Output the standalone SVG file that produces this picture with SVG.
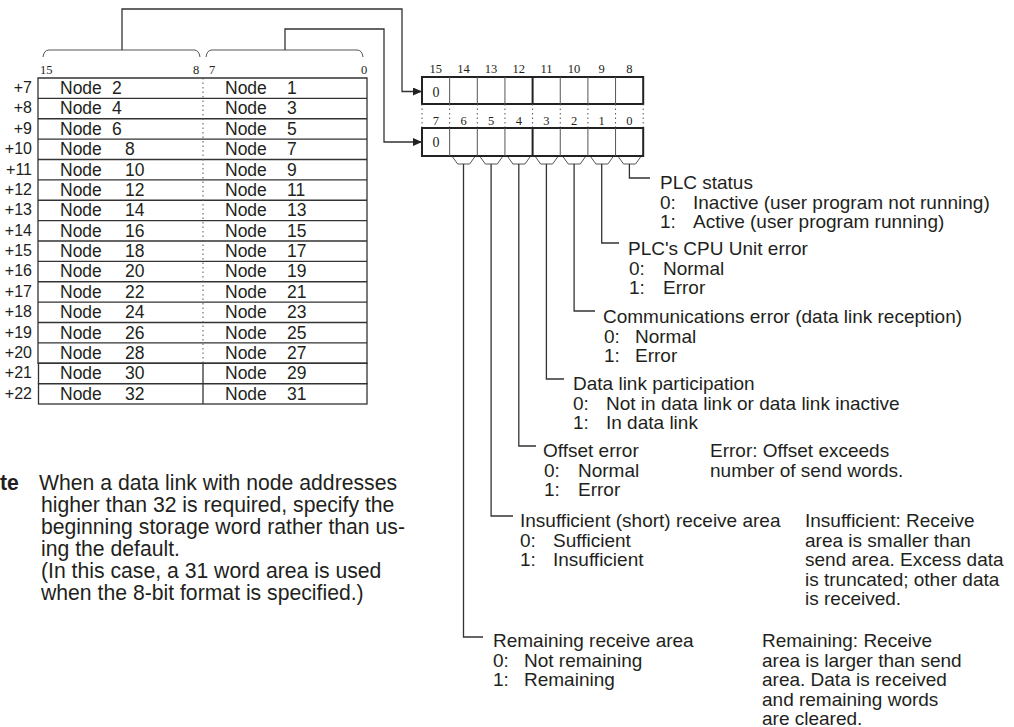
<svg xmlns="http://www.w3.org/2000/svg" width="1014" height="727" viewBox="0 0 1014 727">
<style>
  .t{font-family:"Liberation Sans",Arial,sans-serif;fill:#231f20}
  .tb{font-size:17.5px}
  .lab{font-size:16px;text-anchor:end}
  .r{font-size:19px}
  .note{font-size:21.2px}
  .num{font-family:"Liberation Serif","Times New Roman",serif;font-size:12.5px;fill:#231f20}
  .nm{text-anchor:middle}
  .ln{fill:none;stroke:#333;stroke-width:1.3}
  .thin{fill:none;stroke:#555;stroke-width:1}
  .thick{fill:none;stroke:#222;stroke-width:2}
  .dot{fill:none;stroke:#555;stroke-width:1;stroke-dasharray:1.5 3}
</style>
<defs>
  <marker id="ah" markerUnits="userSpaceOnUse" markerWidth="9" markerHeight="8" refX="9" refY="4" orient="auto">
    <path d="M0,0 L9,4 L0,8 z" fill="#222"/>
  </marker>
</defs>
<rect width="1014" height="727" fill="#fff"/>

<g id="table">
  <path class="ln" d="M38,78 H367 V363.25 H38 Z"/>
  <path class="ln" d="M38,98.4 H367 M38,118.75 H367 M38,139.1 H367 M38,159.5 H367 M38,179.9 H367 M38,200.25 H367 M38,220.6 H367 M38,241 H367 M38,261.4 H367 M38,281.75 H367 M38,302.1 H367 M38,322.5 H367 M38,342.9 H367"/>
  <path class="dot" d="M203,78 V363.25"/>
  <rect class="ln" x="38.5" y="363.25" width="328.5" height="20.4"/>
  <rect class="ln" x="38.5" y="383.65" width="328.5" height="20.35"/>
  <path class="ln" d="M203,363.25 V404"/>
  <g class="t lab">
    <text x="32" y="93">+7</text>
    <text x="32" y="113.4">+8</text>
    <text x="32" y="133.8">+9</text>
    <text x="32" y="154.1">+10</text>
    <text x="32" y="174.5">+11</text>
    <text x="32" y="194.9">+12</text>
    <text x="32" y="215.3">+13</text>
    <text x="32" y="235.6">+14</text>
    <text x="32" y="256">+15</text>
    <text x="32" y="276.4">+16</text>
    <text x="32" y="296.8">+17</text>
    <text x="32" y="317.1">+18</text>
    <text x="32" y="337.5">+19</text>
    <text x="32" y="357.9">+20</text>
    <text x="32" y="378.3">+21</text>
    <text x="32" y="398.6">+22</text>
  </g>
  <g class="t tb">
    <text x="60" y="94">Node<tspan x="112">2</tspan></text>
    <text x="60" y="114.4">Node<tspan x="112">4</tspan></text>
    <text x="60" y="134.8">Node<tspan x="112">6</tspan></text>
    <text x="60" y="155.1">Node<tspan x="125">8</tspan></text>
    <text x="60" y="175.5">Node<tspan x="125">10</tspan></text>
    <text x="60" y="195.9">Node<tspan x="125">12</tspan></text>
    <text x="60" y="216.3">Node<tspan x="125">14</tspan></text>
    <text x="60" y="236.6">Node<tspan x="125">16</tspan></text>
    <text x="60" y="257">Node<tspan x="125">18</tspan></text>
    <text x="60" y="277.4">Node<tspan x="125">20</tspan></text>
    <text x="60" y="297.8">Node<tspan x="125">22</tspan></text>
    <text x="60" y="318.1">Node<tspan x="125">24</tspan></text>
    <text x="60" y="338.5">Node<tspan x="125">26</tspan></text>
    <text x="60" y="358.9">Node<tspan x="125">28</tspan></text>
    <text x="60" y="379.3">Node<tspan x="125">30</tspan></text>
    <text x="60" y="399.6">Node<tspan x="125">32</tspan></text>
    <text x="225" y="94">Node<tspan x="287">1</tspan></text>
    <text x="225" y="114.4">Node<tspan x="287">3</tspan></text>
    <text x="225" y="134.8">Node<tspan x="287">5</tspan></text>
    <text x="225" y="155.1">Node<tspan x="287">7</tspan></text>
    <text x="225" y="175.5">Node<tspan x="287">9</tspan></text>
    <text x="225" y="195.9">Node<tspan x="287">11</tspan></text>
    <text x="225" y="216.3">Node<tspan x="287">13</tspan></text>
    <text x="225" y="236.6">Node<tspan x="287">15</tspan></text>
    <text x="225" y="257">Node<tspan x="287">17</tspan></text>
    <text x="225" y="277.4">Node<tspan x="287">19</tspan></text>
    <text x="225" y="297.8">Node<tspan x="287">21</tspan></text>
    <text x="225" y="318.1">Node<tspan x="287">23</tspan></text>
    <text x="225" y="338.5">Node<tspan x="287">25</tspan></text>
    <text x="225" y="358.9">Node<tspan x="287">27</tspan></text>
    <text x="225" y="379.3">Node<tspan x="287">29</tspan></text>
    <text x="225" y="399.6">Node<tspan x="287">31</tspan></text>
  </g>
  <g class="num">
    <text x="40" y="74">15</text>
    <text x="193" y="74">8</text>
    <text x="209" y="74">7</text>
    <text x="361" y="74">0</text>
  </g>
  <path class="thin" d="M43,57 Q44,50 49,50 H194 Q199,50 200,57"/>
  <path class="thin" d="M206,57 Q207,50 212,50 H357 Q362,50 363,57"/>
</g>

<g id="register-high">
  <rect class="thick" x="422" y="77" width="221.2" height="27"/>
  <path class="thin" d="M449.65,77 V104 M477.3,77 V104 M504.95,77 V104 M560.25,77 V104 M587.9,77 V104 M615.55,77 V104"/>
  <path class="thick" d="M532.6,77 V104"/>
  <text class="num nm" style="font-size:14px" x="436" y="97">0</text>
  <g class="num nm">
    <text x="435.8" y="73">15</text>
    <text x="463.5" y="73">14</text>
    <text x="491.1" y="73">13</text>
    <text x="518.8" y="73">12</text>
    <text x="546.4" y="73">11</text>
    <text x="574.1" y="73">10</text>
    <text x="601.7" y="73">9</text>
    <text x="629.4" y="73">8</text>
  </g>
</g>

<g id="register-low">
  <path class="dot" d="M422,104 V128 M449.65,104 V128 M477.3,104 V128 M504.95,104 V128 M532.6,104 V128 M560.25,104 V128 M587.9,104 V128 M615.55,104 V128 M643.2,104 V128"/>
  <rect class="thick" x="422" y="128" width="221.2" height="28"/>
  <path class="thin" d="M449.65,128 V156 M477.3,128 V156 M504.95,128 V156 M560.25,128 V156 M587.9,128 V156 M615.55,128 V156"/>
  <path class="thick" d="M532.6,128 V156"/>
  <text class="num nm" style="font-size:14px" x="436" y="147">0</text>
  <g class="num nm">
    <text x="435.8" y="125">7</text>
    <text x="463.5" y="125">6</text>
    <text x="491.1" y="125">5</text>
    <text x="518.8" y="125">4</text>
    <text x="546.4" y="125">3</text>
    <text x="574.1" y="125">2</text>
    <text x="601.7" y="125">1</text>
    <text x="629.4" y="125">0</text>
  </g>
  <path class="thin" d="M452.65,157 L457.65,164 H469.65 L474.65,157 M480.3,157 L485.3,164 H497.3 L502.3,157 M507.95,157 L512.95,164 H524.95 L529.95,157 M535.6,157 L540.6,164 H552.6 L557.6,157 M563.25,157 L568.25,164 H580.25 L585.25,157 M590.9,157 L595.9,164 H607.9 L612.9,157 M618.55,157 L623.55,164 H635.55 L640.55,157"/>
</g>

<g id="connectors">
  <path class="ln" d="M122,50 V9 H402 V91.5 H422" marker-end="url(#ah)"/>
  <path class="ln" d="M285,50 V29 H384 V142 H422" marker-end="url(#ah)"/>
  <path class="ln" d="M629.4,164 V178 H650"/>
  <path class="ln" d="M601.7,164 V243 H619"/>
  <path class="ln" d="M574.1,164 V311 H595"/>
  <path class="ln" d="M546.4,164 V379 H564"/>
  <path class="ln" d="M518.8,164 V446 H536"/>
  <path class="ln" d="M491.1,164 V516 H513"/>
  <path class="ln" d="M463.5,164 V637 H483"/>
</g>

<g id="bit0" class="t r">
  <text x="660" y="189">PLC status</text>
  <text x="660" y="208.5">0:<tspan x="693">Inactive (user program not running)</tspan></text>
  <text x="660" y="228">1:<tspan x="693">Active (user program running)</tspan></text>
</g>
<g id="bit1" class="t r">
  <text x="628" y="255">PLC's CPU Unit error</text>
  <text x="629" y="274.5">0:<tspan x="663">Normal</tspan></text>
  <text x="629" y="294">1:<tspan x="663">Error</tspan></text>
</g>
<g id="bit2" class="t r">
  <text x="603" y="323">Communications error (data link reception)</text>
  <text x="604" y="342.5">0:<tspan x="635">Normal</tspan></text>
  <text x="604" y="362">1:<tspan x="635">Error</tspan></text>
</g>
<g id="bit3" class="t r">
  <text x="573" y="390">Data link participation</text>
  <text x="573" y="409.5">0:<tspan x="606">Not in data link or data link inactive</tspan></text>
  <text x="573" y="429">1:<tspan x="606">In data link</tspan></text>
</g>
<g id="bit4" class="t r">
  <text x="543" y="457">Offset error</text>
  <text x="544" y="476.5">0:<tspan x="578">Normal</tspan></text>
  <text x="544" y="496">1:<tspan x="578">Error</tspan></text>
  <text x="710" y="457">Error: Offset exceeds</text>
  <text x="710" y="476.5">number of send words.</text>
</g>
<g id="bit5" class="t r">
  <text x="520" y="527">Insufficient (short) receive area</text>
  <text x="520" y="546.5">0:<tspan x="553">Sufficient</tspan></text>
  <text x="520" y="566">1:<tspan x="553">Insufficient</tspan></text>
  <text x="805" y="527">Insufficient: Receive</text>
  <text x="805" y="546.5">area is smaller than</text>
  <text x="805" y="566">send area. Excess data</text>
  <text x="805" y="585.5">is truncated; other data</text>
  <text x="805" y="605">is received.</text>
</g>
<g id="bit6" class="t r">
  <text x="493" y="647">Remaining receive area</text>
  <text x="493" y="666.5">0:<tspan x="524">Not remaining</tspan></text>
  <text x="493" y="686">1:<tspan x="524">Remaining</tspan></text>
  <text x="762" y="647">Remaining: Receive</text>
  <text x="762" y="666.5">area is larger than send</text>
  <text x="762" y="686">area. Data is received</text>
  <text x="762" y="705.5">and remaining words</text>
  <text x="762" y="725">are cleared.</text>
</g>

<g id="note" class="t note">
  <text x="0" y="490" style="font-weight:bold">te</text>
  <text x="39" y="490">When a data link with node addresses</text>
  <text x="41" y="512">higher than 32 is required, specify the</text>
  <text x="41" y="534">beginning storage word rather than us-</text>
  <text x="41" y="556">ing the default.</text>
  <text x="41" y="578">(In this case, a 31 word area is used</text>
  <text x="41" y="600">when the 8-bit format is specified.)</text>
</g>
</svg>
